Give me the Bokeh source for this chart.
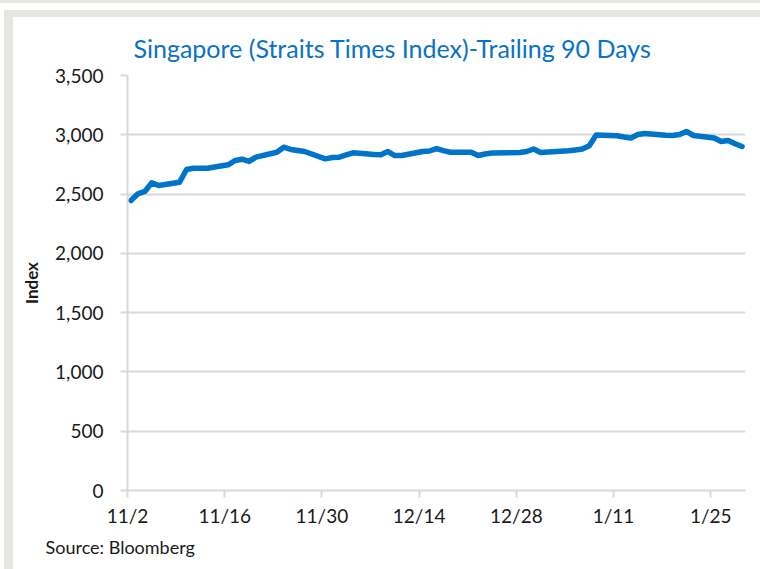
import pandas as pd
from bokeh.plotting import figure
from bokeh.models import FixedTicker, Title, NumeralTickFormatter, Div
from bokeh.layouts import column, row
from bokeh.embed import file_html
from bokeh.resources import INLINE

# ---- data ----
dates = [
    "2020-11-02", "2020-11-03", "2020-11-04", "2020-11-05", "2020-11-06",
    "2020-11-09", "2020-11-10", "2020-11-11", "2020-11-12", "2020-11-13",
    "2020-11-16", "2020-11-17", "2020-11-18", "2020-11-19", "2020-11-20",
    "2020-11-23", "2020-11-24", "2020-11-25", "2020-11-26", "2020-11-27",
    "2020-11-30", "2020-12-01", "2020-12-02", "2020-12-03", "2020-12-04",
    "2020-12-07", "2020-12-08", "2020-12-09", "2020-12-10", "2020-12-11",
    "2020-12-14", "2020-12-15", "2020-12-16", "2020-12-17", "2020-12-18",
    "2020-12-21", "2020-12-22", "2020-12-23", "2020-12-24",
    "2020-12-28", "2020-12-29", "2020-12-30", "2020-12-31",
    "2021-01-04", "2021-01-05", "2021-01-06", "2021-01-07", "2021-01-08",
    "2021-01-11", "2021-01-12", "2021-01-13", "2021-01-14", "2021-01-15",
    "2021-01-18", "2021-01-19", "2021-01-20", "2021-01-21", "2021-01-22",
    "2021-01-25", "2021-01-26", "2021-01-27", "2021-01-28", "2021-01-29",
]
sti = [
    2446, 2502, 2522, 2595, 2572,
    2600, 2707, 2718, 2718, 2718,
    2747, 2783, 2794, 2775, 2811,
    2853, 2895, 2876, 2867, 2859,
    2797, 2808, 2811, 2830, 2848,
    2834, 2831, 2859, 2825, 2825,
    2859, 2863, 2884, 2867, 2853,
    2853, 2825, 2838, 2846,
    2851, 2859, 2880, 2851,
    2865, 2872, 2880, 2908, 2998,
    2992, 2981, 2973, 3002, 3011,
    2996, 2994, 3002, 3028, 2994,
    2973, 2943, 2952, 2924, 2901,
]
start_date = "2020-11-02"
axis_days = 89
x_tick_days = [0, 14, 28, 42, 56, 70, 84]
x_tick_labels = ["11/2", "11/16", "11/30", "12/14", "12/28", "1/11", "1/25"]
y_ticks = [0, 500, 1000, 1500, 2000, 2500, 3000, 3500]

title_text = "Singapore (Straits Times Index)-Trailing 90 Days"
y_label = "Index"
source_text = "Source: Bloomberg"

# ---- styling ----
FONT = "Lato"
GRID = "#d9d9d9"
BORDER = "#e7e6e2"
LINE = "#0074c8"
TITLE_C = "#0a72c4"
TEXT_C = "#1a1a1a"

t0 = pd.Timestamp(start_date)
xs = [(pd.Timestamp(d) - t0).days + 0.5 for d in dates]

p = figure(
    frame_width=618, frame_height=415,
    x_range=(0, axis_days), y_range=(0, 3500),
    output_backend="svg", toolbar_location=None,
    min_border_left=114, min_border_right=15,
    min_border_top=58, min_border_bottom=79,
)
p.outline_line_color = None
p.background_fill_color = "white"
p.border_fill_color = "white"

p.line(xs, sti, line_color=LINE, line_width=5.5, line_join="round", line_cap="round")

# title
p.title.text = title_text
p.title.align = "left"
p.title.offset = 6
p.title.standoff = 26
p.title.text_font = FONT
p.title.text_font_size = "25px"
p.title.text_font_style = "normal"
p.title.text_color = TITLE_C

# x axis
xa = p.xaxis[0]
xa.ticker = FixedTicker(ticks=x_tick_days)
xa.major_label_overrides = {d: l for d, l in zip(x_tick_days, x_tick_labels)}
xa.minor_tick_line_color = None
xa.major_tick_in = 0
xa.major_tick_out = 7
xa.major_tick_line_color = GRID
xa.major_tick_line_width = 2
xa.axis_line_color = GRID
xa.axis_line_width = 2
xa.major_label_text_font = FONT
xa.major_label_text_font_size = "19px"
xa.major_label_text_color = TEXT_C
xa.major_label_standoff = 6

# y axis
ya = p.yaxis[0]
ya.ticker = FixedTicker(ticks=y_ticks)
ya.formatter = NumeralTickFormatter(format="0,0")
ya.minor_tick_line_color = None
ya.major_tick_in = 0
ya.major_tick_out = 7
ya.major_tick_line_color = GRID
ya.major_tick_line_width = 2
ya.axis_line_color = GRID
ya.axis_line_width = 2
ya.major_label_text_font = FONT
ya.major_label_text_font_size = "19px"
ya.major_label_text_color = TEXT_C
ya.major_label_standoff = 17
ya.axis_label = y_label
ya.axis_label_text_font = FONT
ya.axis_label_text_font_size = "17px"
ya.axis_label_text_font_style = "bold"
ya.axis_label_text_color = TEXT_C
ya.axis_label_standoff = 10

p.xgrid.visible = False
p.ygrid.ticker = FixedTicker(ticks=y_ticks)
p.ygrid.grid_line_color = GRID
p.ygrid.grid_line_width = 2

# source note
src = Title(text=source_text, align="left", offset=-82, standoff=8, text_font=FONT,
            text_font_size="18px", text_font_style="normal", text_color=TEXT_C)
p.add_layout(src, "below")

# card frame around the chart
def strip(w, h, color):
    return Div(text="", width=w, height=h, margin=0,
               styles={"background-color": color})

layout = column(
    strip(760, 3, BORDER),
    strip(760, 7, "white"),
    row(
        strip(4, 559, "white"),
        column(
            strip(756, 7, BORDER),
            row(strip(9, 552, BORDER), p, spacing=0),
            spacing=0,
        ),
        spacing=0,
    ),
    spacing=0,
)

open("out.html", "w").write(file_html(layout, INLINE))
